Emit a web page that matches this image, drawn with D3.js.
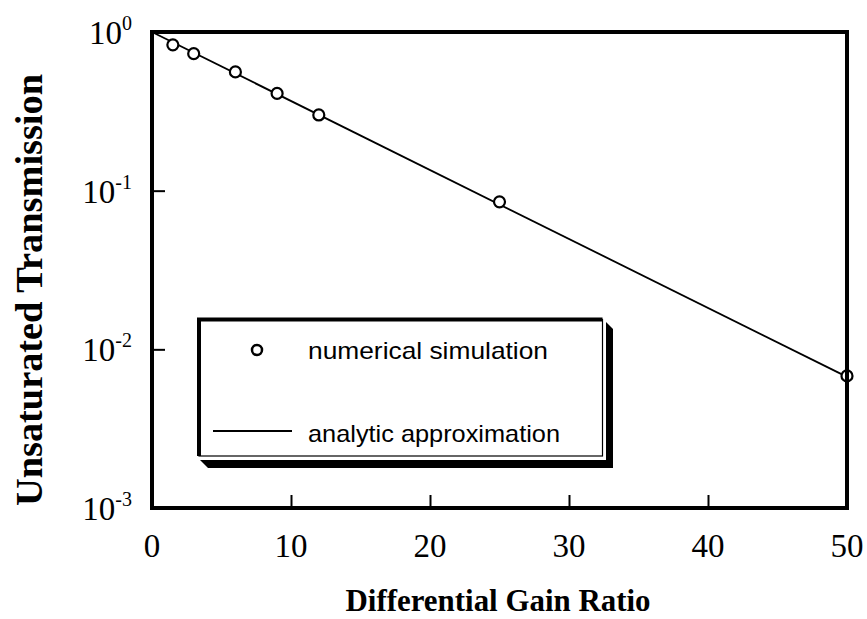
<!DOCTYPE html>
<html>
<head>
<meta charset="utf-8">
<script src="https://cdn.jsdelivr.net/npm/d3@7"></script>
<style>
  body { margin: 0; background: #fff; }
  svg { display: block; }
</style>
</head>
<body>
<div id="chart"></div>
<script>
// values
const simX = [1.5, 3, 6, 9, 12, 25, 50];
const simY = [0.83, 0.73, 0.56, 0.41, 0.30, 0.085, 0.0068];
const fitX = [0, 50];
const fitY = [1, 0.0067];
const xTicks = [0, 10, 20, 30, 40, 50];
const yTicks = [1, 0.1, 0.01, 0.001];
const yExp = ['0', '-1', '-2', '-3'];
const legendLabels = ['numerical simulation', 'analytic approximation'];

const width = 867, height = 619;
const svg = d3.select('#chart').append('svg')
    .attr('width', width)
    .attr('height', height);

const x = d3.scaleLinear().domain([0, 50]).range([152, 847]);
const y = d3.scaleLog().domain([0.001, 1]).range([508, 32]);

// analytic line
const line = d3.line()
    .x(d => x(d[0]))
    .y(d => y(d[1]));
svg.append('path')
    .datum(fitX.map((v, i) => [v, fitY[i]]))
    .attr('d', line)
    .attr('fill', 'none')
    .attr('stroke', '#000')
    .attr('stroke-width', 1.8);

// simulation points
svg.selectAll('circle.pt')
    .data(simX.map((v, i) => [v, simY[i]]))
    .join('circle')
    .attr('class', 'pt')
    .attr('cx', d => x(d[0]))
    .attr('cy', d => y(d[1]))
    .attr('r', 5.5)
    .attr('fill', '#fff')
    .attr('stroke', '#000')
    .attr('stroke-width', 2.2);

// inward ticks
const xAxis = svg.append('g')
    .attr('transform', 'translate(0,' + y(0.001) + ')')
    .call(d3.axisBottom(x).tickValues(xTicks.slice(1, -1)).tickSize(-13).tickFormat(''));
const yAxis = svg.append('g')
    .attr('transform', 'translate(' + x(0) + ',0)')
    .call(d3.axisLeft(y).tickValues(yTicks).tickSize(-13).tickFormat(''));
[xAxis, yAxis].forEach(g => {
    g.select('.domain').remove();
    g.selectAll('line').attr('stroke', '#000').attr('stroke-width', 2);
});

// frame
svg.append('rect')
    .attr('x', x(0)).attr('y', y(1))
    .attr('width', x(50) - x(0)).attr('height', y(0.001) - y(1))
    .attr('fill', 'none')
    .attr('stroke', '#000')
    .attr('stroke-width', 4);

// tick labels
svg.selectAll('text.xt')
    .data(xTicks)
    .join('text')
    .attr('class', 'xt')
    .attr('x', d => x(d))
    .attr('y', 557)
    .attr('text-anchor', 'middle')
    .style('font-family', '"Liberation Serif", "Times New Roman", serif')
    .style('font-size', '33px')
    .text(d => d);

const yt = svg.selectAll('text.yt')
    .data(yTicks)
    .join('text')
    .attr('class', 'yt')
    .attr('x', 132)
    .attr('y', d => y(d) + 12)
    .attr('text-anchor', 'end')
    .style('font-family', '"Liberation Serif", "Times New Roman", serif')
    .style('font-size', '33px');
yt.append('tspan').text('10');
yt.append('tspan')
    .attr('dy', -14)
    .style('font-size', '20px')
    .text((d, i) => yExp[i]);

// axis titles
svg.append('text')
    .attr('x', 498).attr('y', 611)
    .attr('text-anchor', 'middle')
    .attr('textLength', 305)
    .attr('lengthAdjust', 'spacingAndGlyphs')
    .style('font-family', '"Liberation Serif", "Times New Roman", serif')
    .style('font-weight', 'bold')
    .style('font-size', '31px')
    .text('Differential Gain Ratio');

svg.append('text')
    .attr('transform', 'translate(42,290) rotate(-90)')
    .attr('text-anchor', 'middle')
    .attr('textLength', 432)
    .attr('lengthAdjust', 'spacingAndGlyphs')
    .style('font-family', '"Liberation Serif", "Times New Roman", serif')
    .style('font-weight', 'bold')
    .style('font-size', '37px')
    .text('Unsaturated Transmission');

// legend box with shadow
const lg = svg.append('g');
lg.append('polygon')
    .attr('points', '603,319 613,329 613,468 208,468 198,458')
    .attr('fill', '#000');
lg.append('rect')
    .attr('x', 196).attr('y', 317).attr('width', 410).attr('height', 143)
    .attr('fill', '#fff');
lg.append('rect')
    .attr('x', 199).attr('y', 319.5).attr('width', 403.5).attr('height', 136.5)
    .attr('fill', '#fff')
    .attr('stroke', '#000')
    .attr('stroke-width', 1.2);
lg.append('path')
    .attr('d', 'M199,456 L199,319.5 L602.5,319.5')
    .attr('fill', 'none')
    .attr('stroke', '#000')
    .attr('stroke-width', 4);

lg.append('circle')
    .attr('cx', 257).attr('cy', 350).attr('r', 5)
    .attr('fill', '#fff')
    .attr('stroke', '#000')
    .attr('stroke-width', 2.5);
lg.append('line')
    .attr('x1', 213).attr('x2', 292)
    .attr('y1', 431).attr('y2', 431)
    .attr('stroke', '#000')
    .attr('stroke-width', 1.8);

lg.selectAll('text')
    .data(legendLabels)
    .join('text')
    .attr('x', 308)
    .attr('y', (d, i) => i === 0 ? 359 : 442)
    .attr('textLength', (d, i) => i === 0 ? 240 : 252)
    .attr('lengthAdjust', 'spacingAndGlyphs')
    .style('font-family', '"Liberation Sans", Arial, sans-serif')
    .style('font-size', '24px')
    .text(d => d);
</script>
</body>
</html>
